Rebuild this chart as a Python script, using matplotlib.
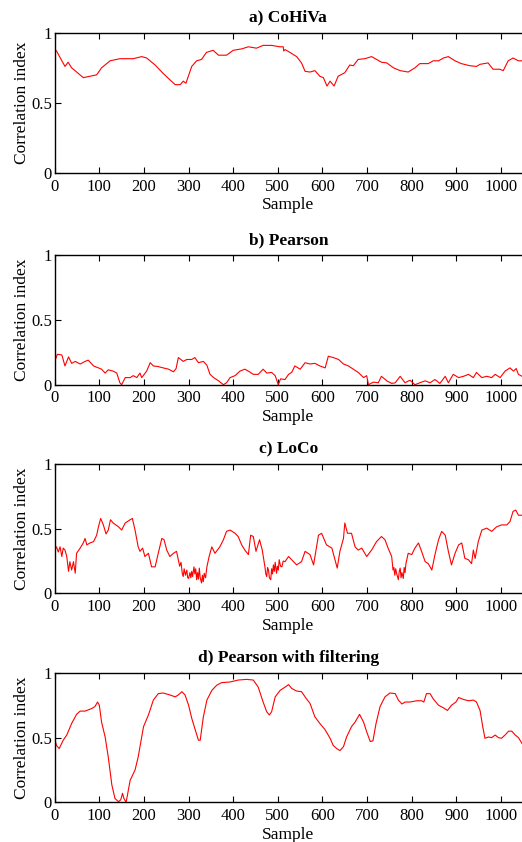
import matplotlib.pyplot as plt

plt.rcParams['font.family'] = ['Liberation Serif', 'DejaVu Serif']

# a) CoHiVa
cohiva_x = [0, 4, 23, 30, 38, 64, 79, 94, 105, 124, 146, 176, 195, 206, 225, 243, 258,
            270, 281, 288, 294, 307, 318, 329, 340, 355, 367, 385, 400, 419, 434, 452,
            467, 486, 504, 512, 513, 516, 527, 542, 553, 561, 572, 583, 594, 602, 610,
            617, 626, 635, 650, 661, 669, 680, 695, 710, 721, 732, 744, 759, 774, 792,
            807, 818, 837, 848, 860, 871, 882, 897, 911, 930, 945, 953, 971, 982, 997,
            1005, 1016, 1027, 1039, 1047]
cohiva_y = [0.88, 0.87, 0.76, 0.79, 0.75, 0.68, 0.69, 0.70, 0.75, 0.80, 0.815, 0.815,
            0.83, 0.82, 0.77, 0.71, 0.665, 0.63, 0.63, 0.655, 0.64, 0.76, 0.80, 0.81,
            0.86, 0.875, 0.84, 0.84, 0.875, 0.885, 0.90, 0.89, 0.91, 0.91, 0.90, 0.90,
            0.87, 0.88, 0.86, 0.83, 0.785, 0.725, 0.72, 0.73, 0.69, 0.68, 0.62, 0.655,
            0.62, 0.69, 0.715, 0.77, 0.765, 0.81, 0.815, 0.83, 0.81, 0.79, 0.785, 0.75,
            0.73, 0.72, 0.75, 0.78, 0.78, 0.80, 0.80, 0.82, 0.83, 0.80, 0.78, 0.765,
            0.76, 0.775, 0.785, 0.74, 0.74, 0.73, 0.80, 0.82, 0.80, 0.80]

# b) Pearson
pearson_x = [0, 6, 16, 23, 31, 38, 46, 57, 68, 75, 87, 98, 105, 113, 120, 131, 139, 146,
             150, 158, 169, 176, 184, 191, 195, 206, 214, 221, 232, 243, 255, 266, 272,
             277, 288, 296, 307, 314, 322, 333, 341, 348, 356, 367, 378, 385, 393, 404,
             415, 426, 434, 445, 456, 467, 475, 486, 494, 501, 506, 516, 524, 531, 538,
             550, 561, 572, 583, 594, 606, 613, 624, 636, 647, 658, 669, 680, 692, 699,
             703, 714, 725, 732, 744, 755, 763, 774, 785, 796, 807, 818, 830, 841, 852,
             863, 875, 882, 893, 905, 916, 927, 938, 945, 957, 968, 979, 987, 998, 1009,
             1020, 1028, 1034, 1039, 1047]
pearson_y = [0.18, 0.235, 0.23, 0.145, 0.215, 0.165, 0.18, 0.16, 0.18, 0.19, 0.145,
             0.13, 0.12, 0.09, 0.115, 0.105, 0.09, 0.015, 0.0, 0.055, 0.055, 0.07, 0.055,
             0.09, 0.055, 0.105, 0.17, 0.145, 0.14, 0.13, 0.12, 0.10, 0.125, 0.21, 0.18,
             0.195, 0.195, 0.21, 0.17, 0.18, 0.15, 0.08, 0.055, 0.03, 0.0, 0.015, 0.055,
             0.07, 0.105, 0.12, 0.105, 0.08, 0.08, 0.12, 0.09, 0.095, 0.07, 0.0, 0.045,
             0.04, 0.08, 0.095, 0.145, 0.12, 0.17, 0.16, 0.165, 0.145, 0.13, 0.22, 0.21,
             0.195, 0.16, 0.145, 0.12, 0.095, 0.055, 0.07, 0.0, 0.02, 0.015, 0.065, 0.03,
             0.01, 0.015, 0.065, 0.015, 0.035, 0.0, 0.015, 0.03, 0.015, 0.04, 0.01, 0.065,
             0.015, 0.08, 0.055, 0.065, 0.08, 0.055, 0.095, 0.055, 0.065, 0.055, 0.08,
             0.055, 0.105, 0.13, 0.105, 0.125, 0.08, 0.065]

# c) LoCo
loco_x = [0, 4, 8, 12, 16, 19, 23, 27, 31, 34, 38, 42, 46, 49, 57, 64, 68, 72, 79, 87,
          94, 98, 103, 109, 115, 120, 125, 131, 143, 150, 158, 169, 174, 180, 187, 191,
          197, 202, 210, 217, 225, 232, 240, 245, 251, 258, 266, 273,
          277, 280, 283, 286, 288, 290, 293, 296, 298, 300, 303, 305, 307, 309, 312, 314,
          316, 318, 320, 322, 324, 326, 329, 331, 333, 335, 338, 341,
          346, 352, 359, 370, 378, 385, 393, 404, 411, 419, 426, 434, 439, 445, 451, 459,
          465,
          471, 473, 475, 477, 479, 481, 484, 486, 488, 490, 492, 494, 497, 499, 501, 503,
          506, 509, 512, 516,
          524, 531, 542, 553, 561, 572, 580, 591, 598, 609, 621, 628, 633, 639, 647, 650,
          656, 665, 673, 680, 688, 699, 710, 721, 732, 740, 747,
          755, 758, 760, 762, 764, 766, 768, 770, 772, 774, 776, 778, 781, 783, 785, 787,
          792, 800, 807, 815, 822, 830, 837, 845, 852, 860, 867, 875, 882, 889, 897, 905,
          912, 919, 927, 934, 938, 942, 949, 957, 968, 979, 990, 1001, 1013, 1020, 1027,
          1033, 1039, 1047]
loco_y = [0.335, 0.36, 0.32, 0.36, 0.285, 0.35, 0.335, 0.285, 0.17, 0.245, 0.18, 0.245,
          0.155, 0.31, 0.35, 0.39, 0.425, 0.375, 0.39, 0.40, 0.45, 0.515, 0.58, 0.53, 0.46,
          0.49, 0.57, 0.545, 0.515, 0.49, 0.545, 0.57, 0.58, 0.49, 0.36, 0.325, 0.35, 0.285,
          0.31, 0.205, 0.205, 0.31, 0.425, 0.415, 0.335, 0.285, 0.31, 0.325,
          0.26, 0.21, 0.24, 0.15, 0.13, 0.19, 0.14, 0.18, 0.12, 0.115, 0.16, 0.12, 0.17,
          0.13, 0.205, 0.15, 0.19, 0.105, 0.16, 0.11, 0.195, 0.12, 0.08, 0.14, 0.09, 0.155,
          0.12, 0.205,
          0.285, 0.36, 0.31, 0.36, 0.415, 0.48, 0.49, 0.465, 0.44, 0.375, 0.335, 0.30, 0.45,
          0.44, 0.325, 0.415, 0.335,
          0.205, 0.15, 0.13, 0.20, 0.18, 0.12, 0.105, 0.19, 0.15, 0.22, 0.17, 0.24, 0.155,
          0.21, 0.18, 0.26, 0.21, 0.205, 0.25, 0.245,
          0.285, 0.26, 0.22, 0.245, 0.325, 0.30, 0.22, 0.45, 0.465, 0.375, 0.35, 0.26,
          0.195, 0.325, 0.425, 0.545, 0.465, 0.465, 0.36, 0.335, 0.35, 0.285, 0.335, 0.40,
          0.44, 0.415, 0.35,
          0.285, 0.18, 0.20, 0.14, 0.19, 0.155, 0.13, 0.105, 0.17, 0.195, 0.12, 0.16,
          0.115, 0.20, 0.16, 0.23,
          0.31, 0.30, 0.35, 0.39, 0.325, 0.245, 0.23, 0.18, 0.30, 0.415, 0.48, 0.45, 0.325,
          0.22, 0.31, 0.375, 0.39, 0.27, 0.26, 0.23, 0.335, 0.27, 0.40, 0.49, 0.505, 0.48,
          0.515, 0.53, 0.53, 0.555, 0.635, 0.645, 0.605, 0.605]

# d) Pearson with filtering
filt_x = [0, 4, 10, 19, 27, 38, 49, 57, 68, 83, 90, 96, 100, 105, 113, 120, 128, 135,
          143, 148, 152, 155, 160, 169, 180, 187, 199, 210, 221, 232, 243, 258, 270, 277,
          285, 292, 300, 307, 314, 322, 326, 333, 341, 352, 363, 374, 393, 411, 430, 445,
          456, 467, 475, 481, 486, 494, 505, 516, 524, 531, 542, 553, 564, 572, 583, 594,
          606, 617, 624, 632, 639, 647, 654, 665, 673, 683, 692, 699, 707, 713, 720, 729,
          740, 751, 763, 770, 778, 785, 796, 811, 822, 827, 833, 841, 848, 860, 871, 880,
          889, 899, 905, 916, 927, 938, 945, 953, 959, 964, 972, 979, 987, 994, 1001, 1009,
          1017, 1024, 1032, 1039, 1047]
filt_y = [0.49, 0.44, 0.415, 0.48, 0.52, 0.61, 0.68, 0.705, 0.705, 0.725, 0.74, 0.775,
          0.75, 0.62, 0.505, 0.35, 0.135, 0.03, 0.005, 0.02, 0.07, 0.03, 0.0, 0.17, 0.25,
          0.35, 0.585, 0.675, 0.79, 0.84, 0.845, 0.83, 0.815, 0.83, 0.855, 0.83, 0.75,
          0.65, 0.57, 0.48, 0.48, 0.66, 0.79, 0.865, 0.905, 0.925, 0.93, 0.945, 0.95, 0.945,
          0.89, 0.775, 0.70, 0.675, 0.70, 0.815, 0.865, 0.89, 0.91, 0.88, 0.86, 0.855,
          0.80, 0.765, 0.66, 0.61, 0.56, 0.495, 0.44, 0.415, 0.40, 0.43, 0.505, 0.585,
          0.62, 0.68, 0.62, 0.545, 0.47, 0.475, 0.61, 0.74, 0.815, 0.845, 0.84, 0.79,
          0.76, 0.775, 0.775, 0.785, 0.785, 0.775, 0.84, 0.84, 0.80, 0.75, 0.73, 0.71,
          0.75, 0.775, 0.81, 0.795, 0.785, 0.79, 0.775, 0.71, 0.585, 0.495, 0.505, 0.50,
          0.52, 0.50, 0.495, 0.52, 0.55, 0.55, 0.52, 0.50, 0.455]

panels = [
    ('a) CoHiVa', cohiva_x, cohiva_y),
    ('b) Pearson', pearson_x, pearson_y),
    ('c) LoCo', loco_x, loco_y),
    ('d) Pearson with filtering', filt_x, filt_y),
]

# axes rectangles in figure fractions: left, bottom, width, height
rects = [
    [0.1048, 0.7945, 0.8952, 0.1666],
    [0.1048, 0.5431, 0.8952, 0.1537],
    [0.1048, 0.2954, 0.8952, 0.1532],
    [0.1048, 0.0471, 0.8952, 0.1537],
]

fig = plt.figure(figsize=(5.22, 8.42), dpi=100)

for (title, xs, ys), rect in zip(panels, rects):
    ax = fig.add_axes(rect)
    ax.plot(xs, ys, color='red', lw=0.8)
    ax.set_xlim(0, 1047)
    ax.set_ylim(0, 1)
    ax.set_xticks(range(0, 1001, 100))
    ax.set_yticks([0, 0.5, 1])
    ax.set_yticklabels(['0', '0.5', '1'])
    ax.spines['right'].set_visible(False)
    for s in ['left', 'top', 'bottom']:
        ax.spines[s].set_linewidth(1.0)
    ax.tick_params(axis='x', direction='in', top=True, length=4, width=0.8,
                   labelsize=12, pad=4)
    ax.tick_params(axis='y', direction='in', length=4, width=0.8,
                   labelsize=12, pad=2)
    ax.set_title(title, fontsize=12.5, fontweight='bold', pad=8)
    ax.set_xlabel('Sample', fontsize=12.5, labelpad=2)
    ax.set_ylabel('Correlation index', fontsize=12.5, labelpad=1)

fig.savefig('out.png', dpi=100)
